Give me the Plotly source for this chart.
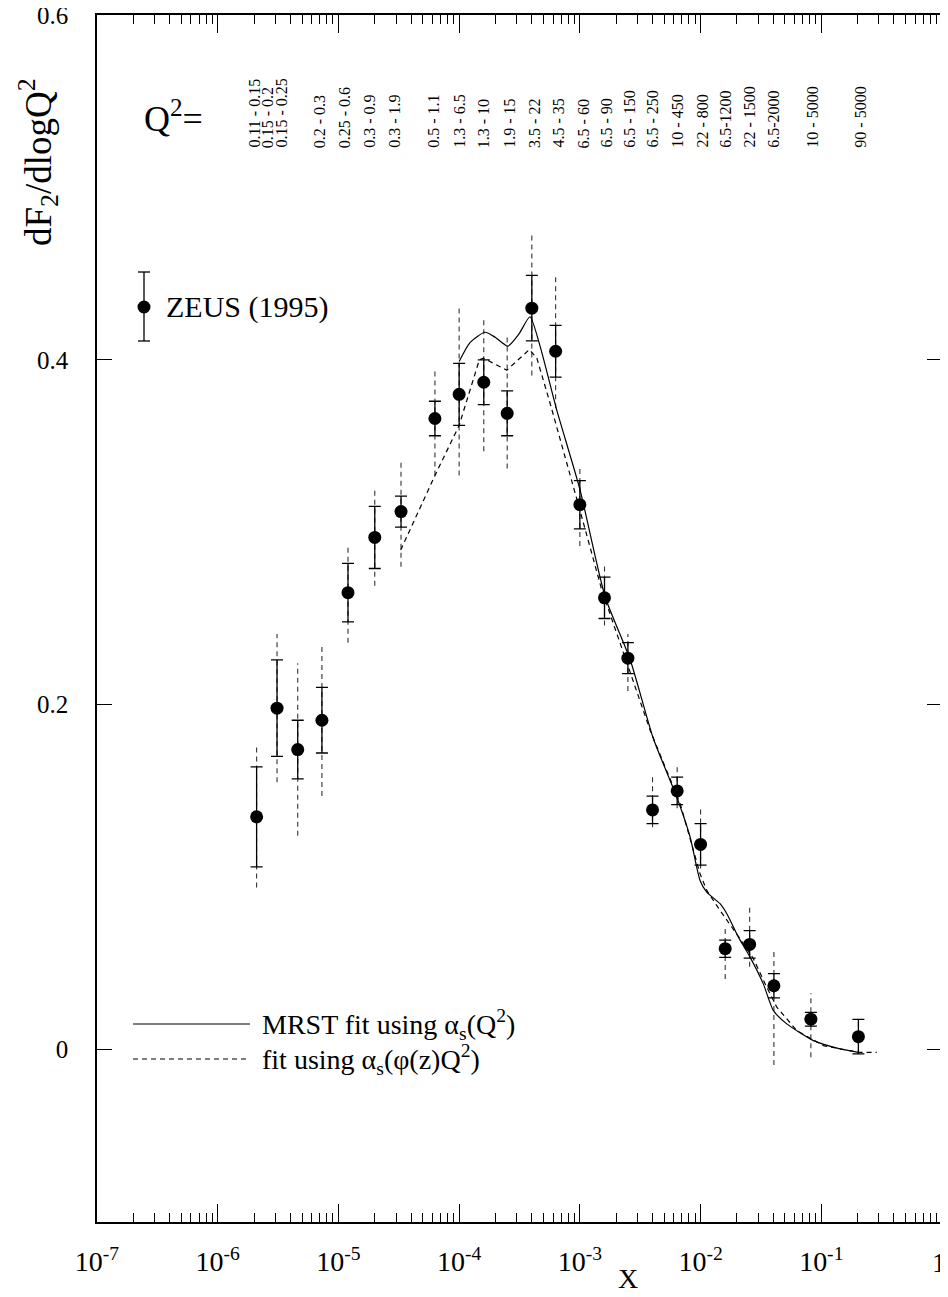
import numpy as np
import plotly.graph_objects as go

# ---------------- data ----------------
x_data = [2.1e-6, 3.1e-6, 4.6e-6, 7.3e-6, 1.2e-5, 2.0e-5, 3.3e-5, 6.3e-5, 1.0e-4, 1.6e-4,
          2.5e-4, 4.0e-4, 6.3e-4, 1.0e-3, 1.6e-3, 2.5e-3, 4.0e-3, 6.4e-3, 1.0e-2, 1.6e-2,
          2.55e-2, 4.05e-2, 8.2e-2, 0.203]
y_data = [0.135, 0.198, 0.174, 0.191, 0.265, 0.297, 0.312, 0.366, 0.380, 0.387,
          0.369, 0.430, 0.405, 0.316, 0.262, 0.227, 0.139, 0.150, 0.119, 0.0585,
          0.061, 0.037, 0.0176, 0.0075]
stat_err = [0.029, 0.028, 0.017, 0.019, 0.017, 0.018, 0.009, 0.010, 0.018, 0.013,
            0.013, 0.019, 0.015, 0.014, 0.012, 0.009, 0.008, 0.008, 0.012, 0.005,
            0.008, 0.007, 0.004, 0.010]
syst_up = [0.042, 0.043, 0.050, 0.044, 0.027, 0.029, 0.030, 0.029, 0.052, 0.037,
           0.044, 0.044, 0.043, 0.022, 0.019, 0.014, 0.019, 0.015, 0.022, 0.013,
           0.022, 0.020, 0.015, 0.010]
syst_dn = [0.041, 0.043, 0.050, 0.044, 0.029, 0.028, 0.032, 0.033, 0.047, 0.040,
           0.032, 0.039, 0.033, 0.024, 0.016, 0.019, 0.010, 0.010, 0.014, 0.0175,
           0.013, 0.046, 0.022, 0.010]

q2_labels = ["0.11 - 0.15", "0.15 - 0.2", "0.15 - 0.25", "0.2 - 0.3", "0.25 - 0.6",
             "0.3 - 0.9", "0.3 - 1.9", "0.5 - 1.1", "1.3 - 6.5", "1.3 - 10",
             "1.9 - 15", "3.5 - 22", "4.5 - 35", "6.5 - 60", "6.5 - 90",
             "6.5 - 150", "6.5 - 250", "10 - 450", "22 - 800", "6.5-1200",
             "22 - 1500", "6.5-2000", "10 - 5000", "90 - 5000"]
q2_label_x = [2.0e-6, 2.6e-6, 3.35e-6, 7.0e-6, 1.13e-5, 1.8e-5, 2.9e-5, 6.1e-5, 1.0e-4, 1.6e-4,
              2.6e-4, 4.2e-4, 6.6e-4, 1.08e-3, 1.65e-3, 2.56e-3, 3.96e-3, 6.4e-3, 1.03e-2, 1.6e-2,
              2.52e-2, 4.0e-2, 8.4e-2, 0.21]

mrst_x = [1.0e-4, 1.23e-4, 1.64e-4, 2.0e-4, 2.53e-4, 3.13e-4, 3.86e-4, 4.68e-4, 6.43e-4,
          1.0e-3, 1.62e-3, 2.62e-3, 4.06e-3, 6.35e-3, 8.19e-3, 9.9e-3, 1.125e-2, 1.45e-2,
          1.65e-2, 2.06e-2, 2.57e-2, 3.31e-2, 4.01e-2, 5.18e-2, 8.6e-2, 0.143, 0.203]
mrst_y = [0.399, 0.410, 0.416, 0.413, 0.408, 0.415, 0.425, 0.408, 0.371,
          0.325, 0.2626, 0.2258, 0.1804, 0.1465, 0.1233, 0.0981, 0.0913, 0.0846,
          0.0788, 0.0652, 0.0536, 0.0381, 0.0226, 0.0149, 0.0052, 0.0004, -0.0016]

phi_x = [3.28e-5, 6.31e-5, 1.0e-4, 1.47e-4, 1.59e-4, 2.48e-4, 3.82e-4, 4.4e-4, 5.66e-4,
         7.08e-4, 8.83e-4, 1.0e-3, 1.52e-3, 2.37e-3, 3.82e-3, 6.78e-3, 9.9e-3, 1.125e-2,
         1.45e-2, 2.12e-2, 2.74e-2, 3.53e-2, 4.28e-2, 6.27e-2, 0.104, 0.203, 0.288]
phi_y = [0.2897, 0.333, 0.362, 0.400, 0.401, 0.394, 0.406, 0.401, 0.375,
         0.3507, 0.328, 0.3129, 0.2665, 0.2278, 0.1852, 0.1426, 0.102, 0.0923,
         0.0807, 0.0643, 0.0527, 0.0362, 0.0246, 0.0110, 0.0023, -0.0016, -0.0016]

x_tick_vals = [1e-7, 1e-6, 1e-5, 1e-4, 1e-3, 1e-2, 1e-1]
x_tick_text = ["10<sup>-7</sup>", "10<sup>-6</sup>", "10<sup>-5</sup>", "10<sup>-4</sup>",
               "10<sup>-3</sup>", "10<sup>-2</sup>", "10<sup>-1</sup>"]
x_last_tick = 1.0
x_last_text = "1"
y_tick_vals = [0, 0.2, 0.4, 0.6]
y_tick_text = ["0", "0.2", "0.4", "0.6"]

# ---------------- figure ----------------
FONT = "Liberation Serif"
OFF = 8                      # page body margin offset
W, H = 940, 1289
ML, MR, MT, MB = 89, 6, 7, 75
PW, PH = W - ML - MR, H - MT - MB


def px(xp):
    return (xp - OFF - ML) / PW


def py(yp):
    return (H - MB - (yp - OFF)) / PH


fig = go.Figure()

# systematic (dashed) error bars
sx, sy = [], []
for xv, yv, up, dn in zip(x_data, y_data, syst_up, syst_dn):
    sx += [xv, xv, None]
    sy += [yv - dn, yv + up, None]
fig.add_trace(go.Scatter(x=sx, y=sy, mode="lines", showlegend=False, hoverinfo="skip",
                         line=dict(color="#333333", width=1.1, dash="5px,4px")))

# fits
fig.add_trace(go.Scatter(x=mrst_x, y=mrst_y, mode="lines", showlegend=False,
                         line=dict(color="black", width=1.2, shape="spline", smoothing=0.6)))
fig.add_trace(go.Scatter(x=phi_x, y=phi_y, mode="lines", showlegend=False,
                         line=dict(color="black", width=1.2, dash="5px,4px")))

# data with statistical error bars
fig.add_trace(go.Scatter(x=x_data, y=y_data, mode="markers", showlegend=False,
                         marker=dict(color="black", size=13),
                         error_y=dict(type="data", array=stat_err, visible=True,
                                      color="black", thickness=1.3, width=6)))

annotations = []
# Q^2 bin labels
for lab, xv in zip(q2_labels, q2_label_x):
    annotations.append(dict(x=np.log10(xv), y=py(150), xref="x", yref="paper",
                            text=lab, textangle=-90, showarrow=False,
                            xanchor="center", yanchor="bottom",
                            font=dict(family=FONT, size=16, color="black")))
annotations.append(dict(x=px(173), y=py(116), xref="paper", yref="paper",
                        text="Q<sup>2</sup>=", showarrow=False,
                        xanchor="center", yanchor="middle",
                        font=dict(family=FONT, size=36, color="black")))
# y title
annotations.append(dict(x=px(38), y=py(162), xref="paper", yref="paper",
                        text="dF<sub>2</sub>/dlogQ<sup>2</sup>", textangle=-90, showarrow=False,
                        xanchor="center", yanchor="middle",
                        font=dict(family=FONT, size=37, color="black")))
# x title
annotations.append(dict(x=px(628), y=py(1278), xref="paper", yref="paper",
                        text="X", showarrow=False, xanchor="center", yanchor="middle",
                        font=dict(family=FONT, size=28, color="black")))
# last x tick label (kept inside the page edge)
annotations.append(dict(x=np.log10(x_last_tick), y=py(1262), xref="x", yref="paper",
                        text=x_last_text, showarrow=False, xanchor="right", yanchor="middle",
                        xshift=6, font=dict(family=FONT, size=28, color="black")))
# legend texts
annotations.append(dict(x=px(164), y=py(307), xref="paper", yref="paper",
                        text="ZEUS (1995)", showarrow=False, xanchor="left", yanchor="middle",
                        font=dict(family=FONT, size=30, color="black")))
annotations.append(dict(x=px(260), y=py(1024), xref="paper", yref="paper",
                        text="MRST fit using α<sub>s</sub>(Q<sup>2</sup>)", showarrow=False,
                        xanchor="left", yanchor="middle",
                        font=dict(family=FONT, size=28, color="black")))
annotations.append(dict(x=px(260), y=py(1059), xref="paper", yref="paper",
                        text="fit using α<sub>s</sub>(φ(z)Q<sup>2</sup>)", showarrow=False,
                        xanchor="left", yanchor="middle",
                        font=dict(family=FONT, size=28, color="black")))

shapes = []
# ZEUS legend glyph
shapes.append(dict(type="line", xref="paper", yref="paper", x0=px(144), x1=px(144),
                   y0=py(272), y1=py(341), line=dict(color="black", width=1.3)))
for yy in (272, 341):
    shapes.append(dict(type="line", xref="paper", yref="paper", x0=px(138), x1=px(150),
                       y0=py(yy), y1=py(yy), line=dict(color="black", width=1.3)))
shapes.append(dict(type="circle", xref="paper", yref="paper", xsizemode="pixel", ysizemode="pixel",
                   xanchor=px(144), yanchor=py(307), x0=-6.5, x1=6.5, y0=-6.5, y1=6.5,
                   fillcolor="black", line=dict(color="black", width=0)))
# fit legend lines
shapes.append(dict(type="line", xref="paper", yref="paper", x0=px(133), x1=px(250),
                   y0=py(1024), y1=py(1024), line=dict(color="black", width=1.2)))
shapes.append(dict(type="line", xref="paper", yref="paper", x0=px(133), x1=px(250),
                   y0=py(1059), y1=py(1059), line=dict(color="black", width=1.2, dash="5px,4px")))

minor_vals = [k * 10.0 ** e for e in range(-7, 0) for k in range(2, 10)]

fig.update_layout(
    width=W, height=H, margin=dict(l=ML, r=MR, t=MT, b=MB, autoexpand=False),
    paper_bgcolor="white", plot_bgcolor="white",
    font=dict(family=FONT, color="black"),
    showlegend=False,
    annotations=annotations, shapes=shapes,
    xaxis=dict(type="log", range=[-7, 0], tickvals=x_tick_vals, ticktext=x_tick_text,
               ticks="inside", ticklen=18, tickwidth=1, tickcolor="black",
               showline=True, linecolor="black", linewidth=1.6, mirror="ticks",
               showgrid=False, zeroline=False, ticklabelstandoff=14, automargin=False,
               ticklabeloverflow="allow",
               tickfont=dict(family=FONT, size=28, color="black"),
               minor=dict(tickvals=minor_vals, ticks="inside", ticklen=9, tickwidth=1,
                          tickcolor="black", showgrid=False)),
    yaxis=dict(range=[-0.1, 0.6], tickvals=y_tick_vals, ticktext=y_tick_text,
               ticks="inside", ticklen=15, tickwidth=1, tickcolor="black",
               showline=True, linecolor="black", linewidth=1.6, mirror="ticks",
               showgrid=False, zeroline=False, ticklabelstandoff=22, automargin=False,
               ticklabeloverflow="allow",
               tickfont=dict(family=FONT, size=25, color="black")),
)

fig.write_html("out.html")
